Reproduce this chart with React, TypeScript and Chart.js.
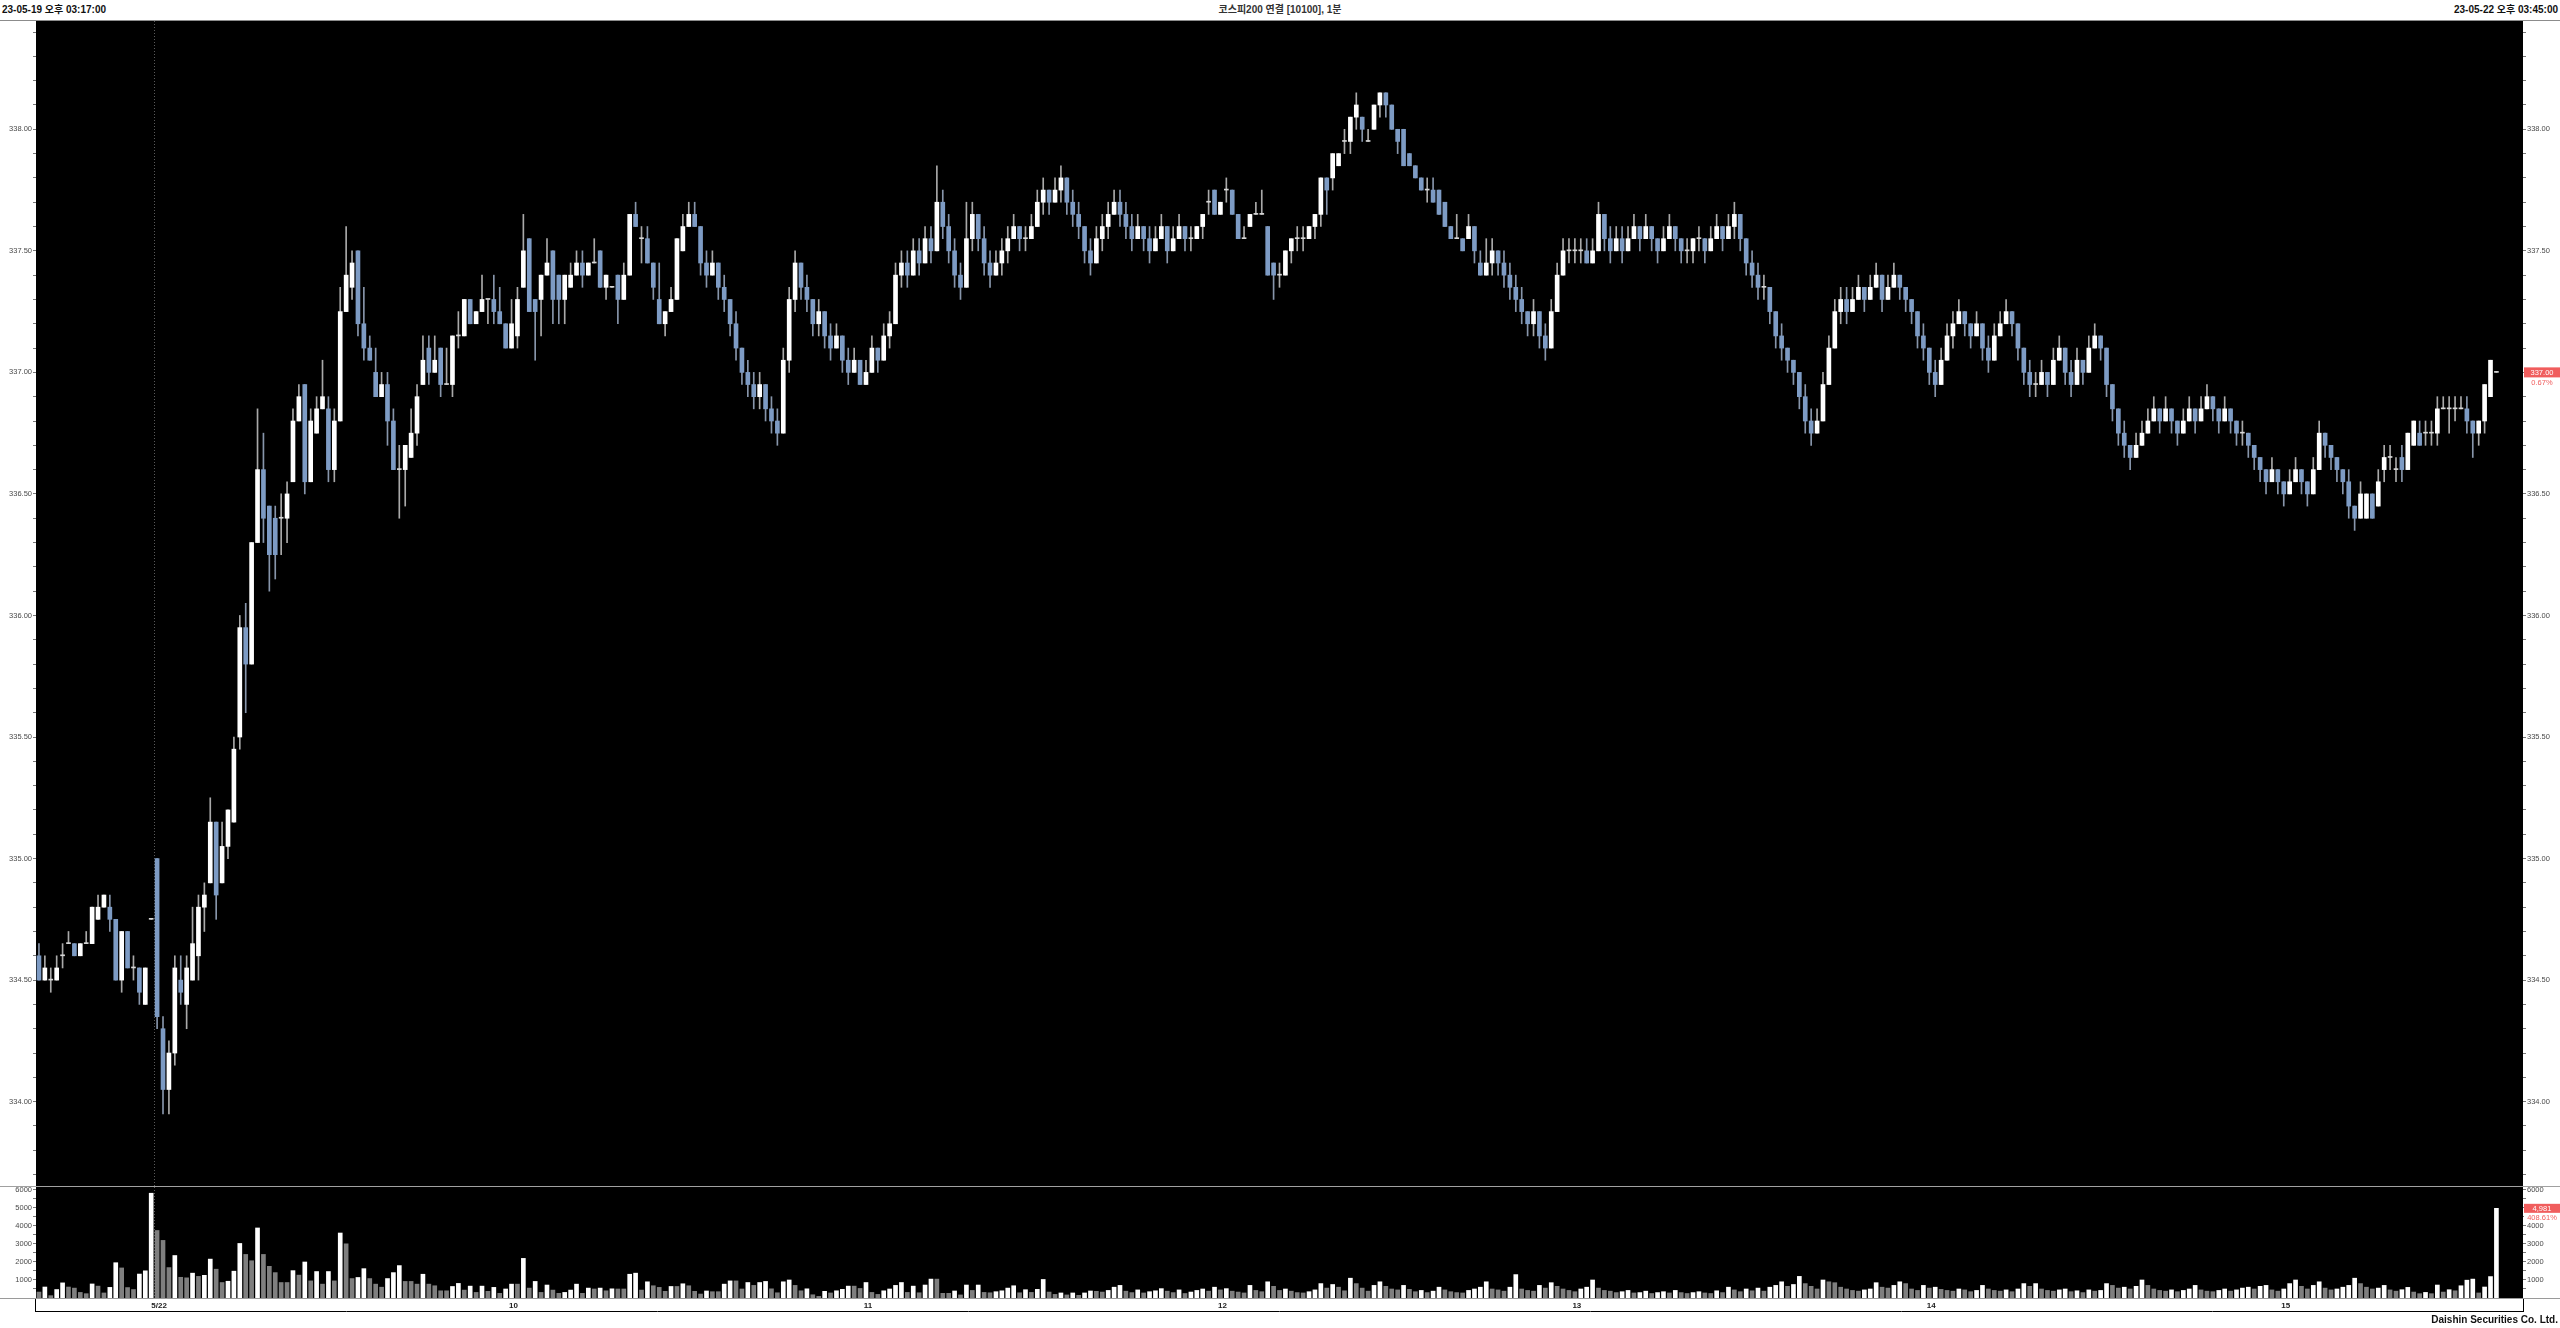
import React, { useEffect, useRef } from 'react';
import { Chart, registerables } from 'chart.js';
Chart.register(...registerables);

// ---------------- DATA ----------------
const headerLeft = '23-05-19 오후 03:17:00';
const headerTitle = '코스피200 연결 [10100], 1분';
const headerRight = '23-05-22 오후 03:45:00';
const footerText = 'Daishin Securities Co. Ltd.';

const xTickIndex = [20, 80, 140, 200, 260, 320, 380];
const xTickText = ['5/22', '10', '11', '12', '13', '14', '15'];
const daySplitAfter = 19;
const emptySlotsRight = 4;

const priceMajorTicks = [334.0, 334.5, 335.0, 335.5, 336.0, 336.5, 337.0, 337.5, 338.0];
const volumeMajorTicks = [1000, 2000, 3000, 4000, 5000, 6000];
const priceChangePct = '0.67%';
const volumeChangePct = '408.61%';

const opens = [
  334.60, 334.50, 334.50, 334.50, 334.60, 334.65, 334.65, 334.60, 334.65, 334.65,
  334.75, 334.80, 334.80, 334.75, 334.50, 334.70, 334.55, 334.55, 334.40, 334.75,
  335.00, 334.30, 334.05, 334.20, 334.50, 334.40, 334.50, 334.60, 334.80, 334.90,
  335.15, 334.90, 335.05, 335.15, 335.50, 335.95, 335.80, 336.30, 336.60, 336.45,
  336.40, 336.40, 336.40, 336.55, 336.80, 336.95, 336.55, 336.75, 336.85, 336.85,
  336.60, 336.80, 337.25, 337.35, 337.50, 337.20, 337.10, 337.00, 336.90, 336.95,
  336.80, 336.60, 336.60, 336.65, 336.75, 336.95, 337.10, 337.00, 337.10, 336.95,
  336.95, 337.15, 337.15, 337.30, 337.20, 337.25, 337.30, 337.30, 337.25, 337.20,
  337.10, 337.15, 337.35, 337.55, 337.30, 337.30, 337.40, 337.50, 337.40, 337.30,
  337.35, 337.40, 337.45, 337.40, 337.45, 337.50, 337.35, 337.35, 337.40, 337.30,
  337.40, 337.65, 337.55, 337.55, 337.45, 337.30, 337.20, 337.25, 337.30, 337.50,
  337.60, 337.65, 337.60, 337.45, 337.40, 337.45, 337.35, 337.30, 337.20, 337.10,
  337.00, 336.95, 336.90, 336.95, 336.85, 336.80, 336.75, 337.05, 337.30, 337.45,
  337.35, 337.30, 337.20, 337.25, 337.15, 337.10, 337.15, 337.05, 337.00, 337.05,
  336.95, 337.00, 337.10, 337.05, 337.15, 337.20, 337.40, 337.45, 337.40, 337.50,
  337.45, 337.55, 337.50, 337.70, 337.60, 337.50, 337.40, 337.35, 337.55, 337.65,
  337.55, 337.45, 337.40, 337.45, 337.50, 337.55, 337.60, 337.55, 337.55, 337.60,
  337.70, 337.75, 337.70, 337.75, 337.80, 337.70, 337.65, 337.60, 337.50, 337.45,
  337.55, 337.60, 337.65, 337.70, 337.65, 337.60, 337.55, 337.60, 337.55, 337.50,
  337.55, 337.60, 337.50, 337.55, 337.60, 337.55, 337.55, 337.60, 337.70, 337.75,
  337.65, 337.75, 337.75, 337.65, 337.55, 337.60, 337.65, 337.65, 337.60, 337.45,
  337.40, 337.40, 337.50, 337.55, 337.55, 337.55, 337.60, 337.65, 337.80, 337.80,
  337.85, 337.95, 337.95, 338.05, 338.05, 337.95, 338.00, 338.10, 338.15, 338.10,
  338.00, 338.00, 337.90, 337.85, 337.80, 337.75, 337.75, 337.75, 337.70, 337.60,
  337.55, 337.55, 337.55, 337.60, 337.45, 337.40, 337.45, 337.50, 337.45, 337.40,
  337.35, 337.30, 337.25, 337.20, 337.25, 337.15, 337.10, 337.25, 337.40, 337.50,
  337.50, 337.50, 337.50, 337.45, 337.50, 337.65, 337.55, 337.50, 337.55, 337.50,
  337.55, 337.60, 337.55, 337.60, 337.55, 337.50, 337.55, 337.60, 337.55, 337.50,
  337.50, 337.55, 337.55, 337.50, 337.55, 337.60, 337.55, 337.60, 337.65, 337.55,
  337.45, 337.40, 337.35, 337.35, 337.25, 337.15, 337.10, 337.05, 337.00, 336.90,
  336.80, 336.75, 336.80, 336.95, 337.10, 337.25, 337.30, 337.25, 337.30, 337.35,
  337.30, 337.35, 337.40, 337.30, 337.35, 337.40, 337.35, 337.30, 337.25, 337.15,
  337.10, 337.00, 336.95, 337.05, 337.15, 337.20, 337.25, 337.20, 337.15, 337.20,
  337.10, 337.05, 337.15, 337.20, 337.25, 337.20, 337.10, 337.00, 336.95, 336.95,
  337.00, 336.95, 337.05, 337.10, 337.00, 336.95, 337.05, 337.00, 337.10, 337.15,
  337.10, 336.95, 336.85, 336.75, 336.70, 336.65, 336.70, 336.75, 336.80, 336.85,
  336.80, 336.85, 336.80, 336.75, 336.80, 336.85, 336.80, 336.85, 336.90, 336.85,
  336.80, 336.85, 336.80, 336.75, 336.75, 336.70, 336.65, 336.60, 336.55, 336.60,
  336.55, 336.50, 336.55, 336.60, 336.55, 336.50, 336.60, 336.75, 336.70, 336.65,
  336.60, 336.55, 336.45, 336.40, 336.40, 336.50, 336.45, 336.60, 336.65, 336.60,
  336.65, 336.60, 336.70, 336.75, 336.75, 336.75, 336.75, 336.85, 336.85, 336.85,
  336.85, 336.85, 336.80, 336.75, 336.80, 336.90, 337.00,
];

const highs = [
  334.65, 334.60, 334.55, 334.60, 334.65, 334.70, 334.65, 334.65, 334.70, 334.80,
  334.85, 334.85, 334.85, 334.75, 334.70, 334.70, 334.60, 334.55, 334.55, 334.75,
  335.00, 334.35, 334.25, 334.60, 334.60, 334.60, 334.80, 334.85, 334.90, 335.25,
  335.15, 335.15, 335.20, 335.50, 336.00, 336.05, 336.30, 336.85, 336.75, 336.45,
  336.45, 336.50, 336.55, 336.85, 336.95, 336.95, 336.85, 336.90, 337.05, 336.90,
  336.85, 337.35, 337.60, 337.50, 337.50, 337.35, 337.15, 337.10, 337.00, 337.00,
  336.85, 336.70, 336.70, 336.85, 336.95, 337.15, 337.15, 337.15, 337.10, 337.10,
  337.15, 337.25, 337.30, 337.30, 337.25, 337.40, 337.30, 337.40, 337.35, 337.20,
  337.30, 337.35, 337.65, 337.55, 337.30, 337.40, 337.55, 337.50, 337.40, 337.40,
  337.45, 337.50, 337.50, 337.45, 337.55, 337.50, 337.40, 337.35, 337.40, 337.45,
  337.65, 337.70, 337.60, 337.60, 337.45, 337.45, 337.25, 337.35, 337.55, 337.65,
  337.70, 337.70, 337.60, 337.50, 337.50, 337.45, 337.40, 337.30, 337.25, 337.10,
  337.05, 337.00, 337.00, 336.95, 336.90, 336.85, 337.10, 337.35, 337.50, 337.45,
  337.40, 337.30, 337.30, 337.25, 337.20, 337.20, 337.15, 337.10, 337.10, 337.05,
  337.05, 337.15, 337.10, 337.20, 337.25, 337.45, 337.50, 337.50, 337.55, 337.55,
  337.60, 337.60, 337.85, 337.75, 337.65, 337.55, 337.45, 337.70, 337.70, 337.65,
  337.60, 337.50, 337.50, 337.55, 337.60, 337.65, 337.60, 337.60, 337.65, 337.75,
  337.80, 337.75, 337.80, 337.85, 337.80, 337.75, 337.70, 337.60, 337.55, 337.60,
  337.65, 337.70, 337.75, 337.75, 337.70, 337.65, 337.65, 337.60, 337.60, 337.60,
  337.65, 337.60, 337.60, 337.65, 337.60, 337.60, 337.60, 337.65, 337.75, 337.75,
  337.70, 337.80, 337.75, 337.65, 337.60, 337.65, 337.70, 337.75, 337.60, 337.45,
  337.45, 337.50, 337.55, 337.60, 337.60, 337.60, 337.65, 337.80, 337.80, 337.90,
  337.90, 338.00, 338.05, 338.15, 338.05, 338.00, 338.10, 338.15, 338.15, 338.10,
  338.00, 338.00, 337.90, 337.85, 337.80, 337.80, 337.80, 337.75, 337.70, 337.60,
  337.65, 337.55, 337.65, 337.60, 337.50, 337.55, 337.55, 337.50, 337.50, 337.45,
  337.40, 337.35, 337.25, 337.30, 337.25, 337.20, 337.30, 337.45, 337.55, 337.55,
  337.55, 337.55, 337.55, 337.55, 337.70, 337.65, 337.60, 337.60, 337.60, 337.60,
  337.65, 337.60, 337.65, 337.60, 337.55, 337.60, 337.65, 337.60, 337.55, 337.55,
  337.55, 337.60, 337.55, 337.60, 337.65, 337.60, 337.65, 337.70, 337.65, 337.55,
  337.50, 337.45, 337.40, 337.35, 337.25, 337.20, 337.10, 337.05, 337.00, 336.95,
  336.85, 336.85, 337.00, 337.15, 337.30, 337.35, 337.35, 337.35, 337.40, 337.35,
  337.40, 337.45, 337.40, 337.40, 337.45, 337.40, 337.35, 337.30, 337.25, 337.20,
  337.10, 337.05, 337.10, 337.20, 337.25, 337.30, 337.25, 337.20, 337.25, 337.20,
  337.15, 337.20, 337.25, 337.30, 337.25, 337.20, 337.10, 337.05, 337.00, 337.05,
  337.00, 337.10, 337.15, 337.10, 337.05, 337.10, 337.05, 337.15, 337.20, 337.15,
  337.10, 336.95, 336.85, 336.80, 336.70, 336.75, 336.80, 336.85, 336.90, 336.85,
  336.90, 336.85, 336.80, 336.85, 336.90, 336.85, 336.90, 336.95, 336.90, 336.85,
  336.90, 336.85, 336.80, 336.80, 336.75, 336.70, 336.65, 336.60, 336.65, 336.60,
  336.55, 336.60, 336.65, 336.60, 336.55, 336.65, 336.80, 336.75, 336.70, 336.65,
  336.60, 336.60, 336.45, 336.55, 336.50, 336.50, 336.60, 336.70, 336.70, 336.65,
  336.70, 336.75, 336.80, 336.80, 336.80, 336.80, 336.90, 336.90, 336.90, 336.90,
  336.90, 336.90, 336.80, 336.80, 336.95, 337.05, 337.00,
];

const lows = [
  334.50, 334.50, 334.45, 334.50, 334.55, 334.65, 334.60, 334.60, 334.65, 334.65,
  334.75, 334.80, 334.70, 334.50, 334.45, 334.55, 334.50, 334.40, 334.40, 334.75,
  334.30, 333.95, 333.95, 334.15, 334.40, 334.30, 334.50, 334.50, 334.70, 334.90,
  334.75, 334.90, 335.00, 335.15, 335.45, 335.60, 335.80, 336.30, 336.30, 336.10,
  336.15, 336.25, 336.30, 336.55, 336.80, 336.50, 336.55, 336.75, 336.85, 336.55,
  336.55, 336.80, 337.25, 337.30, 337.15, 337.05, 337.05, 336.90, 336.90, 336.70,
  336.60, 336.40, 336.45, 336.65, 336.70, 336.95, 336.95, 337.00, 336.90, 336.95,
  336.90, 337.10, 337.15, 337.20, 337.20, 337.25, 337.20, 337.20, 337.20, 337.10,
  337.10, 337.10, 337.35, 337.25, 337.05, 337.15, 337.40, 337.20, 337.20, 337.20,
  337.35, 337.40, 337.35, 337.40, 337.45, 337.35, 337.30, 337.35, 337.20, 337.30,
  337.40, 337.60, 337.45, 337.45, 337.30, 337.20, 337.15, 337.25, 337.30, 337.50,
  337.60, 337.60, 337.40, 337.35, 337.40, 337.30, 337.25, 337.15, 337.05, 336.95,
  336.90, 336.85, 336.85, 336.80, 336.75, 336.70, 336.75, 337.00, 337.25, 337.30,
  337.25, 337.15, 337.15, 337.10, 337.05, 337.10, 337.00, 336.95, 337.00, 336.95,
  336.95, 337.00, 337.00, 337.05, 337.10, 337.20, 337.35, 337.35, 337.40, 337.40,
  337.45, 337.45, 337.50, 337.55, 337.45, 337.35, 337.30, 337.35, 337.50, 337.50,
  337.40, 337.35, 337.40, 337.40, 337.45, 337.55, 337.50, 337.50, 337.55, 337.60,
  337.65, 337.65, 337.70, 337.70, 337.65, 337.60, 337.55, 337.45, 337.40, 337.45,
  337.50, 337.55, 337.65, 337.60, 337.55, 337.50, 337.55, 337.50, 337.45, 337.50,
  337.55, 337.45, 337.50, 337.55, 337.50, 337.50, 337.55, 337.55, 337.65, 337.65,
  337.65, 337.70, 337.65, 337.55, 337.55, 337.60, 337.65, 337.65, 337.40, 337.30,
  337.35, 337.40, 337.45, 337.50, 337.50, 337.55, 337.55, 337.60, 337.65, 337.75,
  337.85, 337.90, 337.90, 338.00, 337.95, 337.95, 338.00, 338.05, 338.05, 338.00,
  337.90, 337.85, 337.85, 337.80, 337.75, 337.70, 337.70, 337.65, 337.60, 337.55,
  337.55, 337.50, 337.55, 337.45, 337.40, 337.40, 337.40, 337.40, 337.35, 337.30,
  337.25, 337.20, 337.15, 337.15, 337.10, 337.05, 337.10, 337.25, 337.40, 337.45,
  337.45, 337.45, 337.45, 337.45, 337.50, 337.50, 337.45, 337.50, 337.45, 337.50,
  337.55, 337.50, 337.55, 337.50, 337.45, 337.50, 337.55, 337.50, 337.45, 337.45,
  337.45, 337.50, 337.45, 337.50, 337.55, 337.50, 337.55, 337.55, 337.50, 337.40,
  337.35, 337.30, 337.30, 337.20, 337.10, 337.05, 337.00, 336.95, 336.85, 336.75,
  336.70, 336.75, 336.80, 336.95, 337.10, 337.20, 337.20, 337.25, 337.30, 337.25,
  337.30, 337.35, 337.25, 337.30, 337.35, 337.30, 337.25, 337.20, 337.10, 337.05,
  336.95, 336.90, 336.95, 337.05, 337.10, 337.20, 337.15, 337.10, 337.15, 337.05,
  337.00, 337.05, 337.15, 337.20, 337.15, 337.05, 336.95, 336.90, 336.90, 336.95,
  336.90, 336.95, 337.05, 336.95, 336.90, 336.95, 336.95, 337.00, 337.10, 337.05,
  336.90, 336.80, 336.70, 336.65, 336.60, 336.65, 336.70, 336.75, 336.80, 336.75,
  336.80, 336.75, 336.70, 336.75, 336.80, 336.75, 336.80, 336.85, 336.80, 336.75,
  336.80, 336.75, 336.70, 336.70, 336.65, 336.60, 336.55, 336.50, 336.55, 336.50,
  336.45, 336.50, 336.55, 336.50, 336.45, 336.50, 336.60, 336.65, 336.60, 336.55,
  336.50, 336.40, 336.35, 336.40, 336.40, 336.40, 336.45, 336.55, 336.60, 336.55,
  336.55, 336.60, 336.70, 336.70, 336.70, 336.70, 336.70, 336.85, 336.75, 336.80,
  336.85, 336.75, 336.65, 336.70, 336.75, 336.90, 337.00,
];

const closes = [
  334.50, 334.55, 334.50, 334.55, 334.60, 334.65, 334.60, 334.65, 334.65, 334.80,
  334.80, 334.85, 334.75, 334.50, 334.70, 334.55, 334.55, 334.45, 334.55, 334.75,
  334.35, 334.05, 334.20, 334.55, 334.45, 334.55, 334.65, 334.80, 334.85, 335.15,
  334.85, 335.05, 335.20, 335.45, 335.95, 335.80, 336.30, 336.60, 336.40, 336.25,
  336.25, 336.40, 336.50, 336.80, 336.90, 336.55, 336.80, 336.85, 336.90, 336.60,
  336.80, 337.25, 337.40, 337.45, 337.20, 337.10, 337.05, 336.90, 336.95, 336.80,
  336.60, 336.60, 336.70, 336.75, 336.90, 337.05, 337.00, 337.05, 336.95, 336.95,
  337.15, 337.15, 337.30, 337.20, 337.25, 337.30, 337.30, 337.25, 337.20, 337.10,
  337.20, 337.30, 337.50, 337.25, 337.25, 337.40, 337.45, 337.30, 337.30, 337.40,
  337.40, 337.45, 337.40, 337.45, 337.45, 337.35, 337.40, 337.35, 337.30, 337.40,
  337.65, 337.60, 337.55, 337.45, 337.35, 337.20, 337.25, 337.30, 337.55, 337.60,
  337.65, 337.60, 337.45, 337.40, 337.45, 337.35, 337.30, 337.20, 337.10, 337.00,
  336.95, 336.90, 336.95, 336.85, 336.80, 336.75, 337.05, 337.30, 337.45, 337.35,
  337.30, 337.20, 337.25, 337.15, 337.10, 337.15, 337.05, 337.00, 337.05, 336.95,
  337.00, 337.10, 337.05, 337.15, 337.20, 337.40, 337.45, 337.40, 337.50, 337.45,
  337.55, 337.50, 337.70, 337.60, 337.50, 337.40, 337.35, 337.55, 337.65, 337.55,
  337.45, 337.40, 337.45, 337.50, 337.55, 337.60, 337.55, 337.55, 337.60, 337.70,
  337.75, 337.70, 337.75, 337.80, 337.70, 337.65, 337.60, 337.50, 337.45, 337.55,
  337.60, 337.65, 337.70, 337.65, 337.60, 337.55, 337.60, 337.55, 337.50, 337.55,
  337.60, 337.50, 337.55, 337.60, 337.55, 337.55, 337.60, 337.65, 337.70, 337.65,
  337.70, 337.75, 337.65, 337.55, 337.55, 337.65, 337.65, 337.65, 337.40, 337.40,
  337.40, 337.50, 337.55, 337.55, 337.55, 337.60, 337.65, 337.80, 337.75, 337.90,
  337.90, 337.95, 338.05, 338.10, 338.00, 337.95, 338.10, 338.15, 338.10, 338.00,
  337.95, 337.85, 337.85, 337.80, 337.75, 337.75, 337.70, 337.65, 337.60, 337.55,
  337.55, 337.50, 337.60, 337.50, 337.40, 337.45, 337.50, 337.45, 337.40, 337.35,
  337.30, 337.25, 337.20, 337.25, 337.15, 337.10, 337.25, 337.40, 337.50, 337.50,
  337.50, 337.50, 337.45, 337.50, 337.65, 337.55, 337.50, 337.55, 337.50, 337.55,
  337.60, 337.55, 337.60, 337.55, 337.50, 337.55, 337.60, 337.55, 337.50, 337.50,
  337.55, 337.55, 337.50, 337.55, 337.60, 337.55, 337.60, 337.65, 337.55, 337.45,
  337.40, 337.35, 337.35, 337.25, 337.15, 337.10, 337.05, 337.00, 336.90, 336.80,
  336.75, 336.80, 336.95, 337.10, 337.25, 337.30, 337.25, 337.30, 337.35, 337.30,
  337.35, 337.40, 337.30, 337.35, 337.40, 337.35, 337.30, 337.25, 337.15, 337.10,
  337.00, 336.95, 337.05, 337.15, 337.20, 337.25, 337.20, 337.15, 337.20, 337.10,
  337.05, 337.15, 337.20, 337.25, 337.20, 337.10, 337.00, 336.95, 336.95, 337.00,
  336.95, 337.05, 337.10, 337.00, 336.95, 337.05, 337.00, 337.10, 337.15, 337.10,
  336.95, 336.85, 336.75, 336.70, 336.65, 336.70, 336.75, 336.80, 336.85, 336.80,
  336.85, 336.80, 336.75, 336.80, 336.85, 336.80, 336.85, 336.90, 336.85, 336.80,
  336.85, 336.80, 336.75, 336.75, 336.70, 336.65, 336.60, 336.55, 336.60, 336.55,
  336.50, 336.55, 336.60, 336.55, 336.50, 336.60, 336.75, 336.70, 336.65, 336.60,
  336.55, 336.45, 336.40, 336.50, 336.50, 336.40, 336.55, 336.65, 336.65, 336.60,
  336.60, 336.75, 336.80, 336.70, 336.75, 336.75, 336.85, 336.85, 336.85, 336.85,
  336.85, 336.80, 336.75, 336.80, 336.95, 337.05, 337.00,
];

const volumes = [
  330, 610, 130, 470, 840, 610, 550, 310, 240, 780,
  660, 280, 590, 1960, 1670, 580, 470, 1330, 1510, 5820,
  3750, 3200, 1690, 2360, 1150, 1120, 1380, 1200, 1260, 2160,
  1600, 860, 930, 1490, 3030, 2420, 2070, 3890, 2420, 1760,
  1410, 860, 860, 1520, 1270, 2000, 950, 1470, 770, 1470,
  950, 3610, 3010, 1080, 1140, 1630, 1080, 770, 600, 1080,
  1410, 1800, 920, 920, 770, 1320, 770, 680, 400, 400,
  640, 810, 440, 660, 310, 660, 370, 590, 260, 500,
  770, 770, 2200, 550, 920, 310, 720, 440, 260, 310,
  440, 770, 260, 550, 500, 550, 400, 510, 500, 500,
  1320, 1380, 440, 900, 680, 590, 370, 640, 640, 790,
  680, 370, 220, 390, 350, 350, 770, 950, 950, 500,
  860, 700, 860, 920, 510, 290, 900, 1000, 700, 400,
  510, 180, 90, 370, 280, 400, 480, 660, 660, 530,
  860, 310, 200, 400, 500, 700, 860, 310, 660, 290,
  720, 1050, 1050, 260, 260, 390, 170, 720, 420, 720,
  310, 290, 350, 400, 550, 680, 290, 460, 310, 480,
  1030, 330, 200, 280, 170, 280, 150, 280, 390, 370,
  330, 420, 600, 700, 380, 300, 450, 280, 350, 400,
  520, 380, 300, 450, 250, 330, 420, 500, 380, 600,
  450, 520, 380, 330, 280, 700, 420, 350, 900, 650,
  420, 500, 380, 300, 280, 350, 450, 800, 550, 750,
  600, 400, 1100, 800, 550, 380, 700, 900, 650, 500,
  450, 700, 480, 350, 420, 300, 380, 600, 450, 350,
  300, 280, 420, 500, 600, 900, 500, 450, 380, 600,
  1300, 500, 420, 380, 700, 550, 850, 650, 500, 420,
  350, 500, 600, 1000, 550, 420, 380, 300, 350, 420,
  280, 300, 380, 250, 300, 350, 280, 420, 300, 250,
  300, 350, 280, 250, 400, 300, 600, 450, 350, 500,
  400, 550, 380, 600, 700, 900, 650, 750, 1200, 800,
  650, 500, 1000, 900, 850, 600, 500, 420, 380, 450,
  500, 850, 600, 550, 700, 900, 800, 500, 420, 700,
  550, 600, 480, 420, 380, 500, 450, 350, 420, 700,
  500, 420, 380, 450, 350, 500, 800, 650, 800, 500,
  420, 380, 450, 500, 350, 400, 300, 450, 380, 420,
  800, 700, 550, 600, 500, 650, 1000, 700, 500, 420,
  380, 450, 350, 420, 500, 700, 450, 380, 350, 420,
  500, 380, 450, 550, 600, 500, 650, 700, 450, 380,
  500, 800, 1000, 650, 500, 700, 900, 550, 450, 500,
  600, 700, 1100, 800, 600, 500, 550, 700, 450, 380,
  460, 590, 330, 240, 310, 240, 720, 330, 460, 400,
  680, 990, 1050, 280, 610, 1190, 4981,
];

// ---------------- STYLE ----------------
const W = 2560;
const PLOT_LEFT = 36;
const PLOT_RIGHT_AXIS = 37;
const PRICE_MIN = 333.653;
const PRICE_MAX = 338.4455;
const VOL_MAX = 6166;
const UP_BODY = '#ffffff';
const DOWN_BODY = '#7d9bc4';
const FLAT_BODY = '#d8d8d8';
const UP_WICK = '#a9a9a9';
const DOWN_WICK = '#8795aa';
const TICK_FONT = { family: '"Liberation Sans", Arial, sans-serif', size: 7.5 };
const TAG_RED = '#f05d5d';

function isMajor(v: number, majors: number[]) {
  return majors.some((m) => Math.abs(m - v) < 1e-6);
}

export default function App() {
  const priceRef = useRef<HTMLCanvasElement>(null);
  const volRef = useRef<HTMLCanvasElement>(null);

  useEffect(() => {
    const n = closes.length;
    const labels = Array.from({ length: n + emptySlotsRight }, (_, i) => String(i));
    const bodies = opens.map((o, i) => [Math.min(o, closes[i]), Math.max(o, closes[i])]);
    const wicks = lows.map((l, i) => [l, highs[i]]);
    const bodyColors = opens.map((o, i) => (closes[i] > o ? UP_BODY : closes[i] < o ? DOWN_BODY : FLAT_BODY));
    const wickColors = opens.map((o, i) => (closes[i] < o ? DOWN_WICK : UP_WICK));
    const volColors = volumes.map((v, i) => (i > 0 && v > volumes[i - 1] ? '#ffffff' : '#7f7f7f'));

    const priceTicks: number[] = [];
    for (let k = Math.ceil(PRICE_MIN * 10); k <= Math.floor(PRICE_MAX * 10); k++) priceTicks.push(k / 10);
    const volTicks: number[] = [];
    for (let k = 500; k <= VOL_MAX; k += 500) volTicks.push(k);

    const yAxisBase = (pos: 'left' | 'right', vals: number[], majors: number[], fmt: (v: number) => string, min: number, max: number) => ({
      type: 'linear',
      position: pos,
      min,
      max,
      bounds: 'data',
      afterFit: (s: any) => {
        s.width = pos === 'left' ? PLOT_LEFT : PLOT_RIGHT_AXIS;
      },
      afterBuildTicks: (s: any) => {
        s.ticks = vals.map((v) => ({ value: v }));
      },
      grid: { display: true, drawOnChartArea: false, drawTicks: true, tickLength: 3, color: '#777777', lineWidth: 1 },
      border: { display: false },
      ticks: {
        autoSkip: false,
        padding: 1,
        color: '#4a4a4a',
        font: TICK_FONT,
        callback: (v: any) => (isMajor(Number(v), majors) ? fmt(Number(v)) : ''),
      },
    });

    const blackBg = {
      id: 'blackBg',
      beforeDraw(chart: any) {
        const { ctx, chartArea } = chart;
        ctx.save();
        ctx.fillStyle = '#000';
        ctx.fillRect(chartArea.left, chartArea.top, chartArea.right - chartArea.left, chartArea.bottom - chartArea.top);
        ctx.restore();
      },
    };

    const daySplit = (extend: number) => ({
      id: 'daySplit',
      beforeDatasetsDraw(chart: any) {
        const { ctx, chartArea } = chart;
        const x = Math.round(chart.scales.x.getPixelForValue(daySplitAfter + 0.5)) + 0.5;
        ctx.save();
        ctx.strokeStyle = '#5a5a5a';
        ctx.lineWidth = 1;
        ctx.setLineDash([1, 2]);
        ctx.beginPath();
        ctx.moveTo(x, chartArea.top);
        ctx.lineTo(x, chartArea.bottom + extend);
        ctx.stroke();
        ctx.restore();
      },
    });

    const priceTag = {
      id: 'priceTag',
      afterDraw(chart: any) {
        const { ctx, chartArea } = chart;
        const last = closes[n - 1];
        const y = chart.scales.y.getPixelForValue(last);
        const x0 = chartArea.right + 1;
        const w = chart.width - x0;
        ctx.save();
        ctx.fillStyle = TAG_RED;
        ctx.fillRect(x0, y - 5, w, 10);
        ctx.fillStyle = '#ffffff';
        ctx.font = '7.5px "Liberation Sans", Arial, sans-serif';
        ctx.textAlign = 'center';
        ctx.textBaseline = 'middle';
        ctx.fillText(last.toFixed(2), x0 + w / 2, y + 0.5);
        ctx.fillStyle = TAG_RED;
        ctx.fillText(priceChangePct, x0 + w / 2, y + 10.5);
        ctx.restore();
      },
    };

    const volTag = {
      id: 'volTag',
      afterDraw(chart: any) {
        const { ctx, chartArea } = chart;
        const last = volumes[n - 1];
        const y = chart.scales.y.getPixelForValue(last);
        const x0 = chartArea.right + 1;
        const w = chart.width - x0;
        ctx.save();
        ctx.fillStyle = TAG_RED;
        ctx.fillRect(x0, y - 4.5, w, 9);
        ctx.fillStyle = '#ffffff';
        ctx.font = '7.5px "Liberation Sans", Arial, sans-serif';
        ctx.textAlign = 'center';
        ctx.textBaseline = 'middle';
        ctx.fillText(last.toLocaleString('en-US'), x0 + w / 2, y + 0.5);
        ctx.fillRect(x0, y + 5, w, 8);
        ctx.fillStyle = TAG_RED;
        ctx.fillText(volumeChangePct, x0 + w / 2, y + 9.5);
        ctx.restore();
      },
    };

    const bottomAxis = {
      id: 'bottomAxis',
      afterDraw(chart: any) {
        const { ctx, chartArea } = chart;
        const xs = chart.scales.x;
        const b = chartArea.bottom;
        ctx.save();
        ctx.strokeStyle = '#000';
        ctx.lineWidth = 1;
        ctx.beginPath();
        ctx.moveTo(chartArea.left - 0.5, b);
        ctx.lineTo(chartArea.left - 0.5, b + 14);
        ctx.moveTo(chartArea.right + 0.5, b);
        ctx.lineTo(chartArea.right + 0.5, b + 14);
        ctx.moveTo(chartArea.left - 0.5, b + 13.5);
        ctx.lineTo(chartArea.right + 0.5, b + 13.5);
        ctx.stroke();
        ctx.fillStyle = '#222';
        ctx.font = 'bold 8px "Liberation Sans", Arial, sans-serif';
        ctx.textAlign = 'center';
        ctx.textBaseline = 'middle';
        xTickIndex.forEach((idx, k) => {
          ctx.fillText(xTickText[k], xs.getPixelForValue(idx) + 2, b + 7.5);
        });
        ctx.restore();
      },
    };

    const common = {
      responsive: false,
      animation: false,
      devicePixelRatio: 1,
      events: [],
      plugins: { legend: { display: false }, tooltip: { enabled: false } },
    };

    const priceChart = new Chart(priceRef.current as HTMLCanvasElement, {
      type: 'bar',
      data: {
        labels,
        datasets: [
          {
            data: bodies,
            backgroundColor: bodyColors,
            borderWidth: 0,
            barThickness: 4,
            minBarLength: 1,
            grouped: false,
            order: 0,
          },
          {
            data: wicks,
            backgroundColor: wickColors,
            borderWidth: 0,
            barThickness: 1,
            minBarLength: 1,
            grouped: false,
            order: 1,
          },
        ],
      } as any,
      options: {
        ...common,
        layout: { padding: { top: 10, bottom: 10, left: 0, right: 0 } },
        scales: {
          x: { type: 'category', display: false, offset: true, grid: { display: false } },
          y: yAxisBase('left', priceTicks, priceMajorTicks, (v) => v.toFixed(2), PRICE_MIN, PRICE_MAX),
          y2: yAxisBase('right', priceTicks, priceMajorTicks, (v) => v.toFixed(2), PRICE_MIN, PRICE_MAX),
        },
      } as any,
      plugins: [blackBg, daySplit(0), priceTag],
    });

    const volChart = new Chart(volRef.current as HTMLCanvasElement, {
      type: 'bar',
      data: {
        labels,
        datasets: [
          {
            data: volumes,
            backgroundColor: volColors,
            borderWidth: 0,
            barThickness: 4,
            grouped: false,
          },
        ],
      } as any,
      options: {
        ...common,
        layout: { padding: { top: 10, bottom: 30, left: 0, right: 0 } },
        scales: {
          x: { type: 'category', display: false, offset: true, grid: { display: false } },
          y: yAxisBase('left', volTicks, volumeMajorTicks, (v) => String(v), 0, VOL_MAX),
          y2: yAxisBase('right', volTicks, volumeMajorTicks, (v) => String(v), 0, VOL_MAX),
        },
      } as any,
      plugins: [blackBg, daySplit(3), volTag, bottomAxis],
    });

    return () => {
      priceChart.destroy();
      volChart.destroy();
    };
  }, []);

  const hdr: React.CSSProperties = {
    position: 'absolute',
    top: 3,
    fontFamily: '"Liberation Sans", "Noto Sans CJK KR", sans-serif',
    fontWeight: 'bold',
    fontSize: 10,
    lineHeight: '14px',
    color: '#111',
    whiteSpace: 'nowrap',
  };
  const hline = (top: number, color: string): React.CSSProperties => ({
    position: 'absolute',
    left: 0,
    top,
    width: W,
    height: 1,
    background: color,
  });

  return (
    <div style={{ position: 'absolute', left: 0, top: 0, width: W, height: 1328, background: '#fff', overflow: 'hidden' }}>
      <div style={{ ...hdr, left: 2 }}>{headerLeft}</div>
      <div style={{ ...hdr, left: 0, width: W, textAlign: 'center', color: '#333' }}>{headerTitle}</div>
      <div style={{ ...hdr, right: 2 }}>{headerRight}</div>
      <canvas ref={priceRef} width={W} height={1185} style={{ position: 'absolute', left: 0, top: 11, width: W, height: 1185 }} />
      <canvas ref={volRef} width={W} height={151} style={{ position: 'absolute', left: 0, top: 1177, width: W, height: 151 }} />
      <div style={hline(20, '#8c8c8c')} />
      <div style={hline(1186, '#a0a0a0')} />
      <div style={hline(1298, '#9a9a9a')} />
      <div style={{ ...hdr, top: 1313, right: 2, fontSize: 10 }}>{footerText}</div>
    </div>
  );
}
